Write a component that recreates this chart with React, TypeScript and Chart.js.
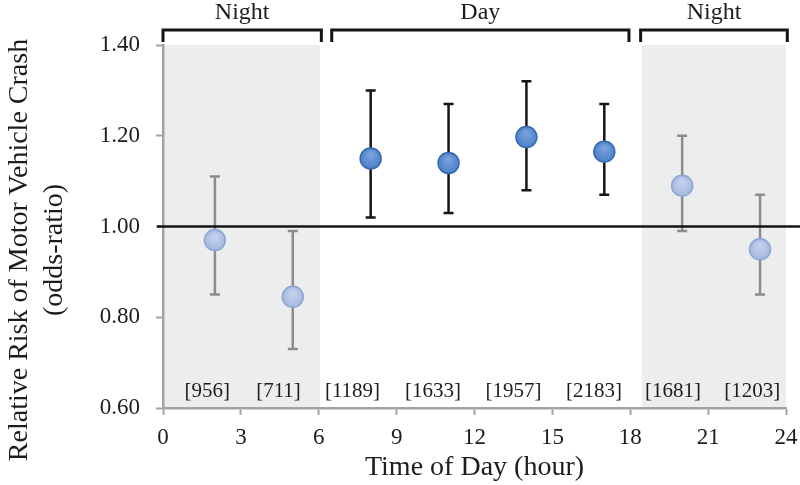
import React, { useEffect, useRef } from "react";
import { Chart, registerables } from "chart.js";

Chart.register(...registerables);

const hours = [2, 5, 8, 11, 14, 17, 20, 23];
const oddsRatio = [0.97, 0.845, 1.15, 1.14, 1.197, 1.165, 1.09, 0.95];
const ciLower = [0.85, 0.73, 1.02, 1.03, 1.08, 1.07, 0.99, 0.85];
const ciUpper = [1.11, 0.99, 1.3, 1.27, 1.32, 1.27, 1.2, 1.07];
const isNight = [true, true, false, false, false, false, true, true];
const crashCounts = ["[956]", "[711]", "[1189]", "[1633]", "[1957]", "[2183]", "[1681]", "[1203]"];
const countLabelX = [1.7, 4.45, 7.3, 10.4, 13.5, 16.6, 19.65, 22.7];
const countLabelY = 0.636;
const shadeStart = [0, 18.45];
const shadeEnd = [6.05, 24];
const periodLabels = ["Night", "Day", "Night"];
const periodStart = [0, 6.5, 18.4];
const periodEnd = [6.1, 17.95, 24.05];
const referenceValue = 1.0;
const xTicks = [0, 3, 6, 9, 12, 15, 18, 21, 24];
const yTicks = [0.6, 0.8, 1.0, 1.2, 1.4];
const yTitleLines = ["Relative Risk of Motor Vehicle Crash", "(odds-ratio)"];
const xTitle = "Time of Day (hour)";

const FONT = "'Liberation Serif', 'Times New Roman', serif";
const TEXT = "#1c1c1c";
const AXIS = "#a3a3a3";

const overlayPlugin = {
  id: "overlay",
  beforeDraw(chart: any) {
    const { ctx, chartArea, scales } = chart;
    const x = scales.x;
    ctx.save();
    ctx.fillStyle = "#eceded";
    for (let i = 0; i < shadeStart.length; i++) {
      const a = x.getPixelForValue(shadeStart[i]);
      const b = x.getPixelForValue(shadeEnd[i]);
      ctx.fillRect(a, chartArea.top, b - a, chartArea.bottom - chartArea.top);
    }
    ctx.restore();
  },
  beforeDatasetsDraw(chart: any) {
    const { ctx, chartArea, scales } = chart;
    const x = scales.x;
    const y = scales.y;
    ctx.save();
    for (let i = 0; i < hours.length; i++) {
      const px = x.getPixelForValue(hours[i]);
      const lo = y.getPixelForValue(ciLower[i]);
      const hi = y.getPixelForValue(ciUpper[i]);
      ctx.strokeStyle = isNight[i] ? "#8c8c8c" : "#151515";
      ctx.lineWidth = 2.5;
      ctx.beginPath();
      ctx.moveTo(px, lo);
      ctx.lineTo(px, hi);
      ctx.moveTo(px - 5, lo);
      ctx.lineTo(px + 5, lo);
      ctx.moveTo(px - 5, hi);
      ctx.lineTo(px + 5, hi);
      ctx.stroke();
    }
    const ry = y.getPixelForValue(referenceValue);
    ctx.strokeStyle = "#151515";
    ctx.lineWidth = 2.5;
    ctx.beginPath();
    ctx.moveTo(chartArea.left - 6, ry);
    ctx.lineTo(chart.width, ry);
    ctx.stroke();
    ctx.fillStyle = TEXT;
    ctx.font = `21px ${FONT}`;
    ctx.textAlign = "center";
    ctx.textBaseline = "middle";
    for (let i = 0; i < crashCounts.length; i++) {
      ctx.fillText(crashCounts[i], x.getPixelForValue(countLabelX[i]), y.getPixelForValue(countLabelY));
    }
    ctx.restore();
  },
  afterDraw(chart: any) {
    const { ctx, chartArea, scales } = chart;
    const x = scales.x;
    const top = chartArea.top - 15;
    ctx.save();
    ctx.strokeStyle = "#151515";
    ctx.lineWidth = 3;
    ctx.fillStyle = TEXT;
    ctx.font = `24px ${FONT}`;
    ctx.textAlign = "center";
    ctx.textBaseline = "middle";
    for (let i = 0; i < periodLabels.length; i++) {
      const a = x.getPixelForValue(periodStart[i]);
      const b = x.getPixelForValue(periodEnd[i]);
      ctx.beginPath();
      ctx.moveTo(a, top + 12);
      ctx.lineTo(a, top);
      ctx.lineTo(b, top);
      ctx.lineTo(b, top + 12);
      ctx.stroke();
      ctx.fillText(periodLabels[i], (a + b) / 2, 13);
    }
    ctx.font = `28px ${FONT}`;
    ctx.translate(0, 250);
    ctx.rotate(-Math.PI / 2);
    ctx.fillText(yTitleLines[0], 0, 20);
    ctx.fillText(yTitleLines[1], 0, 55);
    ctx.restore();
  },
};

function pointFill(context: any) {
  const chart = context.chart;
  const i = context.dataIndex;
  const night = isNight[i];
  const base = night ? "#a3b6de" : "#4b7fc7";
  const sx = chart.scales && chart.scales.x;
  const sy = chart.scales && chart.scales.y;
  if (!sx || !sy || i === undefined) return base;
  const px = sx.getPixelForValue(hours[i]);
  const py = sy.getPixelForValue(oddsRatio[i]);
  if (!Number.isFinite(px) || !Number.isFinite(py)) return base;
  const g = chart.ctx.createRadialGradient(px, py - 4, 1, px, py, 11);
  g.addColorStop(0, night ? "#c6d3ee" : "#7aa3dc");
  g.addColorStop(1, base);
  return g;
}

export default function App() {
  const ref = useRef<HTMLCanvasElement>(null);
  useEffect(() => {
    if (!ref.current) return;
    const chart = new Chart(ref.current, {
      type: "scatter",
      data: {
        datasets: [
          {
            data: hours.map((h, i) => ({ x: h, y: oddsRatio[i] })),
            pointRadius: 10.5,
            pointHoverRadius: 10.5,
            pointBorderWidth: 1.5,
            pointBackgroundColor: pointFill,
            pointBorderColor: hours.map((_, i) => (isNight[i] ? "#8ea6d6" : "#3869b0")),
          },
        ],
      },
      options: {
        responsive: false,
        animation: false,
        layout: { padding: { top: 45, right: 14, left: 0, bottom: 0 } },
        plugins: { legend: { display: false }, tooltip: { enabled: false } },
        scales: {
          x: {
            type: "linear",
            min: 0,
            max: 24,
            afterBuildTicks: (s: any) => {
              s.ticks = xTicks.map((v) => ({ value: v }));
            },
            afterFit: (s: any) => {
              s.height = 77;
              s.paddingLeft = 0;
              s.paddingRight = 0;
            },
            ticks: { color: TEXT, font: { family: FONT, size: 23 }, padding: 9, maxRotation: 0 },
            grid: { drawOnChartArea: false, color: AXIS, tickLength: 7, tickWidth: 2 },
            border: { color: AXIS, width: 2.5 },
            title: {
              display: true,
              text: xTitle,
              color: TEXT,
              font: { family: FONT, size: 28 },
              padding: { top: 0, bottom: 1 },
            },
          },
          y: {
            min: 0.6,
            max: 1.4,
            afterBuildTicks: (s: any) => {
              s.ticks = yTicks.map((v) => ({ value: v }));
            },
            afterFit: (s: any) => {
              s.width = 163;
              s.paddingTop = 0;
              s.paddingBottom = 0;
            },
            ticks: {
              color: TEXT,
              font: { family: FONT, size: 23 },
              padding: 16,
              callback: (v: any) => Number(v).toFixed(2),
            },
            grid: { drawOnChartArea: false, color: AXIS, tickLength: 7, tickWidth: 2 },
            border: { color: AXIS, width: 2.5 },
            title: { display: false },
          },
        },
      },
      plugins: [overlayPlugin],
    });
    return () => chart.destroy();
  }, []);
  return (
    <div style={{ position: "absolute", left: 0, top: 0, width: 800, height: 485, background: "#fff" }}>
      <canvas ref={ref} width={800} height={485} />
    </div>
  );
}
